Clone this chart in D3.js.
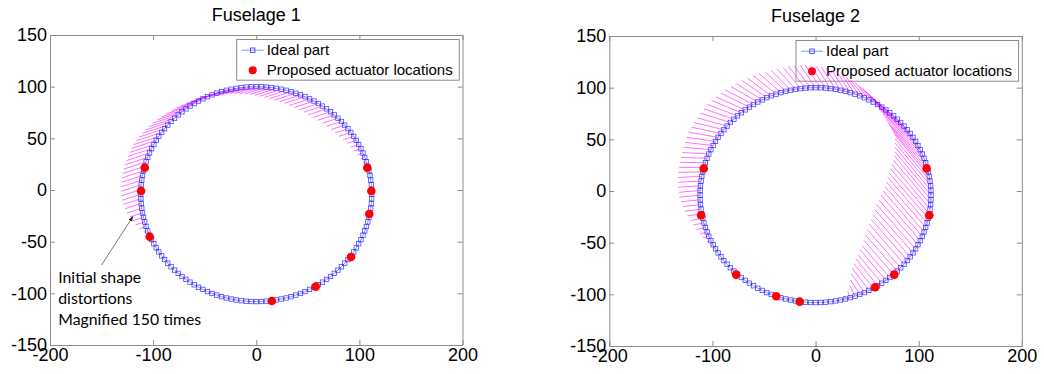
<!DOCTYPE html>
<html><head><meta charset="utf-8">
<script src="https://cdn.jsdelivr.net/npm/d3@7"></script>
<style>
body{margin:0;background:#fff}
svg{display:block}
text{font-family:"Liberation Sans",Arial,sans-serif;fill:#000}
</style>
</head><body>
<svg id="chart" width="1044" height="374"></svg>
<script>
// ---------- data ----------
const titles = ["Fuselage 1", "Fuselage 2"];
const xTicks = [-200, -100, 0, 100, 200];
const yTicks = [-150, -100, -50, 0, 50, 100, 150];
const legendLabels = ["Ideal part", "Proposed actuator locations"];
const noteLines = ["Initial shape", "distortions", "Magnified 150 times"];

// ideal part outline (shared by both fuselages)
const idealX = [112,111.9,111.6,111,110.3,109.3,108.2,106.8,105.2,103.5,101.5,99.3,97,94.5,91.7,88.9,85.8,82.6,79.2,75.7,72,68.2,64.2,60.2,56,51.7,47.3,42.9,38.3,33.7,29,24.2,19.4,14.6,9.8,4.9,0,
-4.9,-9.8,-14.6,-19.4,-24.2,-29,-33.7,-38.3,-42.9,-47.3,-51.7,-56,-60.2,-64.2,-68.2,-72,-75.7,-79.2,-82.6,-85.8,-88.9,-91.7,-94.5,-97,-99.3,-101.5,-103.5,-105.2,-106.8,-108.2,-109.3,-110.3,-111,-111.6,-111.9,-112,
-111.9,-111.6,-111,-110.3,-109.3,-108.2,-106.8,-105.2,-103.5,-101.5,-99.3,-97,-94.5,-91.7,-88.9,-85.8,-82.6,-79.2,-75.7,-72,-68.2,-64.2,-60.2,-56,-51.7,-47.3,-42.9,-38.3,-33.7,-29,-24.2,-19.4,-14.6,-9.8,-4.9,0,
4.9,9.8,14.6,19.4,24.2,29,33.7,38.3,42.9,47.3,51.7,56,60.2,64.2,68.2,72,75.7,79.2,82.6,85.8,88.9,91.7,94.5,97,99.3,101.5,103.5,105.2,106.8,108.2,109.3,110.3,111,111.6,111.9];
const idealY = [-4,0.5,5.1,9.6,14.1,18.5,22.9,27.3,31.6,35.8,40,44,48,51.9,55.7,59.3,62.8,66.3,69.5,72.7,75.7,78.5,81.2,83.7,86.1,88.2,90.3,92.1,93.7,95.2,96.5,97.5,98.4,99.1,99.6,99.9,100,
99.9,99.6,99.1,98.4,97.5,96.5,95.2,93.7,92.1,90.3,88.2,86.1,83.7,81.2,78.5,75.7,72.7,69.5,66.3,62.8,59.3,55.7,51.9,48,44,40,35.8,31.6,27.3,22.9,18.5,14.1,9.6,5.1,0.5,-4,
-8.5,-13.1,-17.6,-22.1,-26.5,-30.9,-35.3,-39.6,-43.8,-48,-52,-56,-59.9,-63.7,-67.3,-70.8,-74.3,-77.5,-80.7,-83.7,-86.5,-89.2,-91.7,-94.1,-96.2,-98.3,-100.1,-101.7,-103.2,-104.5,-105.5,-106.4,-107.1,-107.6,-107.9,-108,
-107.9,-107.6,-107.1,-106.4,-105.5,-104.5,-103.2,-101.7,-100.1,-98.3,-96.2,-94.1,-91.7,-89.2,-86.5,-83.7,-80.7,-77.5,-74.3,-70.8,-67.3,-63.7,-59.9,-56,-52,-48,-43.8,-39.6,-35.3,-30.9,-26.5,-22.1,-17.6,-13.1,-8.5];

// magnified initial distortions (one vector per ideal point)
const f1DX = [0,0,0,0,0,0,
-1,-2.4,-3.8,-5.2,-6.7,-7.6,-8.6,-10,-11.4,-12.4,-13.3,-14.3,-15.2,-16.2,-17.1,-17.6,-18.1,-18.5,-19,-19.5,-20,
-20.4,-20.9,-20.9,-20.9,-20.9,-20.9,-20.9,-20.9,-20.9,-20.9,
-20.9,-20.9,-20.9,-20.9,-20.9,-20.9,-20.9,-20.9,-20.9,-20.9,-20.9,-20.9,
-21.9,-22.8,-23.8,-23.8,-24.7,-24.7,-24.7,-24.7,-24.7,-24.7,-24.2,-23.8,
-23.3,-22.8,-22.3,-21.9,-21.9,-21.4,-20.9,-20.4,-20,-19.5,-19,-18.1,
-17.1,-15.7,-14.3,-12.4,-10.5,-8.6,-6.2,-3.8,-1.9,-1,
0,0,0,0,0,0,0,0,0,0,0,0,0,0,0,0,0,0,0,0,0,0,0,0,0,0,0,0,0,0,0,0,0,0,0,0,0,0,0,0,0,0,0,0,0,0,0,0,0,0,0,0,0,0,0,0,0,0,0,0,0];
const f1DY = [0,0,0,0,0,0,
-0.3,-0.8,-1.2,-1.7,-2.2,-2.5,-2.8,-3.3,-3.7,-4,-4.3,-4.7,-5,-5.3,-5.6,-5.7,-5.9,-6,-6.2,-6.4,-6.5,
-6.7,-6.8,-6.8,-6.8,-6.8,-6.8,-6.8,-6.8,-6.8,-6.8,
-6.8,-6.8,-6.8,-6.8,-6.8,-6.8,-6.8,-6.8,-6.8,-6.8,-6.8,-6.8,
-7.1,-7.4,-7.8,-7.8,-8.1,-8.1,-8.1,-8.1,-8.1,-8.1,-7.9,-7.8,
-7.6,-7.4,-7.3,-7.1,-7.1,-7,-6.8,-6.7,-6.5,-6.4,-6.2,-5.9,
-5.6,-5.1,-4.7,-4,-3.4,-2.8,-2,-1.2,-0.6,-0.3,
0,0,0,0,0,0,0,0,0,0,0,0,0,0,0,0,0,0,0,0,0,0,0,0,0,0,0,0,0,0,0,0,0,0,0,0,0,0,0,0,0,0,0,0,0,0,0,0,0,0,0,0,0,0,0,0,0,0,0,0,0];

const f2DX = [-35,-35,-34.5,-34,-34,-34,-34.5,-35,-35,-35,
-34.5,-34,-34,-32.5,-31,-29.5,-28,-25.5,-23.5,-21,
-19,-17.5,-16.5,-15,-14,-13.5,-13.5,-13,-13,-13,
-13.5,-14,-14,-14,-14.5,-15,-15,-16,-16.5,-17,
-18,-19,-20,-21,-22,-23,-24,-25,-26,-27,
-27.5,-28.5,-29,-29,-29,-29,-29,-29,-28.5,-28.5,
-28,-27,-26.5,-25.5,-25,-24.5,-24,-23.5,-23,-22,
-21.5,-20.5,-20,-18.5,-17,-15.5,-14,-12,-10.5,-8.5,
-7,-5.5,-4,-2.5,-1,
0,0,0,0,0,0,0,0,0,0,0,0,0,0,0,0,0,0,0,0,0,0,0,0,0,0,0,0,
-0.5,-1,-2.5,-5,-9,-12.5,-16,
-19,-21,-23,-25,-27,-29,-31,-32.5,-34,-35,
-36,-37,-38,-38,-38,-38,-38,-38,-38,-38,
-38,-37,-36,-35.5];
const f2DY = [42,42,41.5,41,41,39,37.5,36,34,33,
32,31,30,28,26,24,22,20.5,19,17.5,
16,16,16,16,16,17,17.5,18,19,20,
20.5,21,22,22,22,22,22,21.5,21,20.5,
20,19.5,19,18.5,18,17,16.5,15.5,15,14,
13.5,12.5,12,11,10,9,8,7,6,5,
4,3,2.5,1.5,1,0.5,0,-0.5,-1,-1.2,
-1.5,-1.8,-2,-2,-2,-2,-2,-2,-2,-2,
-2,-1.5,-1,-0.5,0,
0,0,0,0,0,0,0,0,0,0,0,0,0,0,0,0,0,0,0,0,0,0,0,0,0,0,0,0,
1,3,6,10,14,18,21.5,
24,26,27.5,29.5,31,33,35,37,39,40,
41,42,43,43.5,44,44,44,44,44,44,
44,43.5,43,42.5];

// proposed actuator locations
const f1ActX = [-108.1,-111.7,-103.3,107.7,111.6,109.6,91.9,57.7,15.1];
const f1ActY = [21.6,-1.0,-45.2,21.6,-1.0,-23.2,-64.8,-93.5,-107.4];
const f2ActX = [-108.4,-111,-77,-38.1,-15.4,57.8,76.3,107.7,110.3];
const f2ActY = [21.8,-23.4,-80.9,-101.9,-107.1,-93.2,-80.9,21.8,-23.4];

// ---------- drawing ----------
const svg = d3.select("#chart");
const PW = 412.5, PH = 310;
const FRAME = "#8c8c8c", IDEAL_LINE = "#8f8fff", IDEAL_MARK = "#2a2aff", DIST = "#ff00ff", ACT = "#ff0000";

const panels = [
  {x0: 50, y0: 35, title: titles[0], dx: f1DX, dy: f1DY, ax: f1ActX, ay: f1ActY, note: true},
  {x0: 609.3, y0: 36, title: titles[1], dx: f2DX, dy: f2DY, ax: f2ActX, ay: f2ActY, note: false}
];

panels.forEach(p => {
  const x = d3.scaleLinear().domain([-200, 200]).range([0, PW]);
  const y = d3.scaleLinear().domain([-150, 150]).range([PH, 0]);
  const g = svg.append("g").attr("transform", `translate(${p.x0},${p.y0})`);

  svg.append("text").attr("x", p.x0 + PW / 2).attr("y", p.y0 - 14)
    .attr("text-anchor", "middle").style("font-size", "18px").text(p.title);

  const fmt = d => String(d);
  const styleAxis = sel => {
    sel.select(".domain").attr("stroke", FRAME);
    sel.selectAll(".tick line").attr("stroke", FRAME);
    sel.selectAll(".tick text").style("font-size", "18px").attr("fill", "#000")
      .style("font-family", '"Liberation Sans",Arial,sans-serif');
  };
  g.append("g").attr("transform", `translate(0,${PH})`)
    .call(d3.axisBottom(x).tickValues(xTicks).tickSizeInner(-5).tickSizeOuter(0).tickPadding(3).tickFormat(fmt)).call(styleAxis);
  g.append("g")
    .call(d3.axisTop(x).tickValues(xTicks).tickSizeInner(-5).tickSizeOuter(0).tickFormat("")).call(styleAxis);
  g.append("g")
    .call(d3.axisLeft(y).tickValues(yTicks).tickSizeInner(-5).tickSizeOuter(0).tickPadding(3).tickFormat(fmt)).call(styleAxis);
  g.append("g").attr("transform", `translate(${PW},0)`)
    .call(d3.axisRight(y).tickValues(yTicks).tickSizeInner(-5).tickSizeOuter(0).tickFormat("")).call(styleAxis);

  // legend (transparent box, drawn beneath data)
  const lg = g.append("g").attr("transform", "translate(186.7,4.5)");
  lg.append("rect").attr("width", 222.6).attr("height", 40.7).attr("fill", "none").attr("stroke", FRAME);
  lg.append("line").attr("x1", 5).attr("x2", 27).attr("y1", 10.7).attr("y2", 10.7).attr("stroke", IDEAL_LINE).attr("stroke-width", 1);
  lg.append("rect").attr("x", 16 - 2.2).attr("y", 10.7 - 2.2).attr("width", 4.4).attr("height", 4.4)
    .attr("fill", "none").attr("stroke", IDEAL_MARK).attr("stroke-width", 0.8);
  lg.append("circle").attr("cx", 16).attr("cy", 30.7).attr("r", 4).attr("fill", ACT);
  lg.selectAll("text.lab").data(legendLabels).join("text").attr("class", "lab")
    .attr("x", 30).attr("y", (d, i) => 10.7 + 20 * i).attr("dy", "0.35em").style("font-size", "15px").text(d => d);

  const idx = d3.range(idealX.length);
  // ideal line
  g.append("path").datum(idx)
    .attr("d", d3.line().x(i => x(idealX[i])).y(i => y(idealY[i])).curve(d3.curveLinearClosed))
    .attr("fill", "none").attr("stroke", IDEAL_LINE).attr("stroke-width", 1);
  // distortion vectors
  g.append("g").selectAll("line").data(idx.filter(i => p.dx[i] !== 0 || p.dy[i] !== 0)).join("line")
    .attr("x1", i => x(idealX[i])).attr("y1", i => y(idealY[i]))
    .attr("x2", i => x(idealX[i] + p.dx[i])).attr("y2", i => y(idealY[i] + p.dy[i]))
    .attr("stroke", DIST).attr("stroke-width", 0.8).attr("stroke-opacity", 0.7);
  // ideal markers
  g.append("g").selectAll("rect").data(idx).join("rect")
    .attr("x", i => x(idealX[i]) - 2.2).attr("y", i => y(idealY[i]) - 2.2)
    .attr("width", 4.4).attr("height", 4.4)
    .attr("fill", "none").attr("stroke", IDEAL_MARK).attr("stroke-width", 0.8).attr("stroke-opacity", 0.85);
  // actuators
  g.append("g").selectAll("circle").data(d3.range(p.ax.length)).join("circle")
    .attr("cx", i => x(p.ax[i])).attr("cy", i => y(p.ay[i])).attr("r", 4.3).attr("fill", ACT);

  if (p.note) {
    const defs = svg.append("defs");
    defs.append("marker").attr("id", "ah").attr("viewBox", "0 0 10 10").attr("refX", 9).attr("refY", 5)
      .attr("markerWidth", 7).attr("markerHeight", 7).attr("orient", "auto")
      .append("path").attr("d", "M0,1.5L10,5L0,8.5Z").attr("fill", "#222");
    g.append("line").attr("x1", x(-150)).attr("y1", y(-72.6)).attr("x2", x(-119.5)).attr("y2", y(-25.5))
      .attr("stroke", "#555").attr("stroke-width", 0.8).attr("marker-end", "url(#ah)");
    g.selectAll("text.note").data(noteLines).join("text").attr("class", "note")
      .attr("x", x(-192)).attr("y", (d, i) => y(-90) + 21 * i)
      .style("font-family", "Lato, 'Open Sans', sans-serif").style("font-size", "15.8px").attr("fill", "#111")
      .text(d => d);
  }
});
</script>
</body></html>
